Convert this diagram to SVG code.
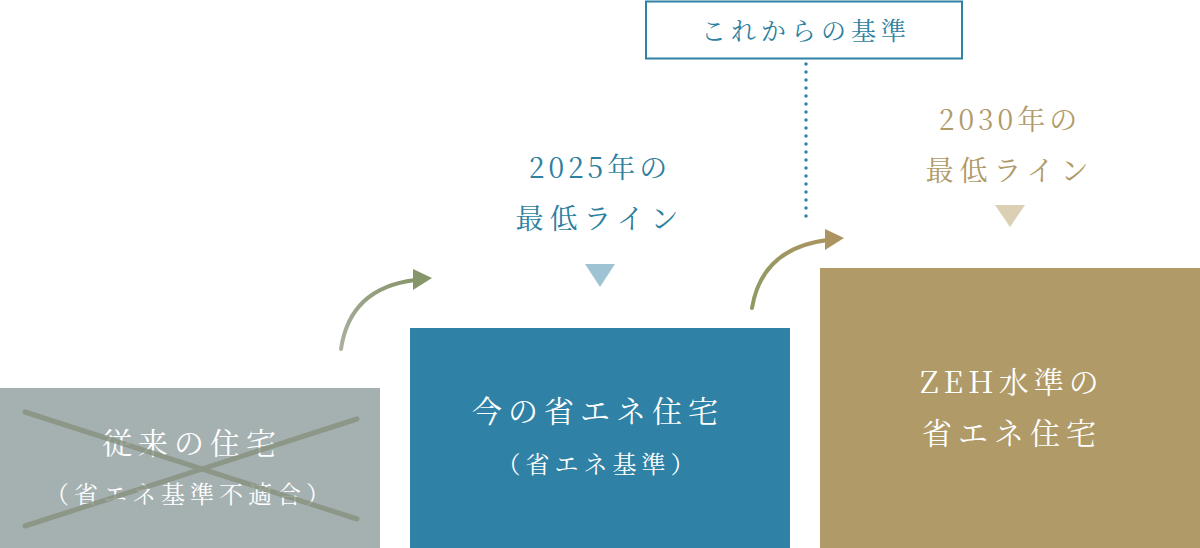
<svg xmlns="http://www.w3.org/2000/svg" width="1200" height="548" viewBox="0 0 1200 548">
<defs>
<style>
text{font-family:"Noto Serif CJK JP","Noto Sans CJK JP",serif;text-anchor:middle}
.w{fill:#fff}
.b{fill:#2e7fa0}
.g{fill:#b09a68}
</style>
<linearGradient id="a1" x1="0" y1="1" x2="1" y2="0"><stop offset="0" stop-color="#a9b0a0"/><stop offset="1" stop-color="#87966a"/></linearGradient>
<linearGradient id="a2" x1="0" y1="1" x2="1" y2="0"><stop offset="0" stop-color="#8d9a62"/><stop offset="1" stop-color="#ab9462"/></linearGradient>
</defs>
<g id="header">
<rect x="646" y="1.5" width="316" height="57" fill="#fff" stroke="#2e82a6" stroke-width="2"/>
<text x="806" y="40" font-size="25" letter-spacing="5" class="b">これからの基準</text>
</g>
<g id="old">
<rect x="0" y="388" width="380" height="160" fill="#a5b0b1"/>
<text x="192" y="454" font-size="30" letter-spacing="6" class="w">従来の住宅</text>
<text x="190" y="503" font-size="24" letter-spacing="5" class="w">（省エネ基準不適合）</text>
<g stroke="#87917f" stroke-width="5" stroke-linecap="round" opacity="0.8">
<line x1="25" y1="412" x2="357" y2="519"/><line x1="25" y1="526" x2="357" y2="419"/>
</g>
</g>
<g id="current">
<rect x="410" y="328" width="380" height="220" fill="#2f82a6"/>
<text x="598" y="422" font-size="30" letter-spacing="6" class="w">今の省エネ住宅</text>
<text x="598" y="473" font-size="24" letter-spacing="5" class="w">（省エネ基準）</text>
<text x="600" y="178" font-size="28" letter-spacing="4" class="b">2025年の</text>
<text x="600" y="229" font-size="28" letter-spacing="6" class="b">最低ライン</text>
<polygon points="585,264 615,264 600,287" fill="#9ec4d4"/>
</g>
<g id="zeh">
<rect x="820" y="268" width="380" height="280" fill="#b09a68"/>
<text x="1012" y="393" font-size="30" letter-spacing="5" class="w">ZEH水準の</text>
<text x="1012" y="444" font-size="30" letter-spacing="6" class="w">省エネ住宅</text>
<text x="1010" y="130" font-size="28" letter-spacing="4" class="g">2030年の</text>
<text x="1010" y="181" font-size="28" letter-spacing="6" class="g">最低ライン</text>
<polygon points="995,205 1025,205 1010,227" fill="#dcd0b4"/>
</g>
<g id="connectors">
<path d="M341,349 Q350,288 415,280" fill="none" stroke="url(#a1)" stroke-width="4" stroke-linecap="round"/>
<polygon points="413,269 432,278 413,290" fill="#87966a"/>
<path d="M752,308 Q762,248 828,240" fill="none" stroke="url(#a2)" stroke-width="4" stroke-linecap="round"/>
<polygon points="825,229 844,238 825,250" fill="#ab9462"/>
<line x1="806" y1="64" x2="806" y2="220" stroke="#2e82a6" stroke-width="3.5" stroke-linecap="round" stroke-dasharray="0 8"/>
</g>
</svg>
